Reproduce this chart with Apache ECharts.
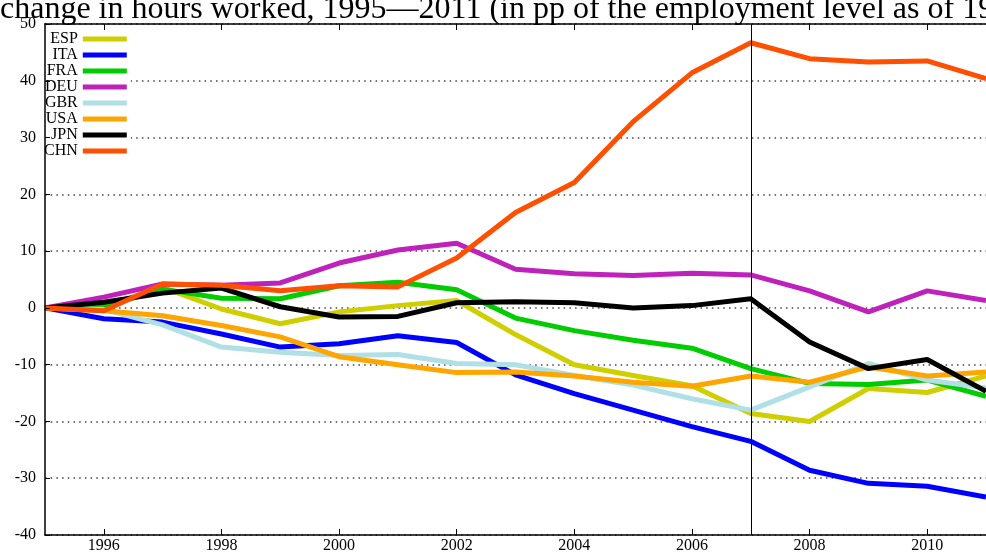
<!DOCTYPE html>
<html><head><meta charset="utf-8">
<script src="https://cdn.jsdelivr.net/npm/echarts@6/dist/echarts.min.js"></script>
<style>html,body{margin:0;padding:0;background:#fff}#c{width:986px;height:554px}</style>
</head><body><div id="c"></div>
<script>
const years = [1995,1996,1997,1998,1999,2000,2001,2002,2003,2004,2005,2006,2007,2008,2009,2010,2011];
const ESP = [0, 0.3, 3.6, -0.2, -2.8, -0.7, 0.4, 1.3, -4.7, -10.0, -11.9, -13.7, -18.6, -20.0, -14.2, -14.9, -12.0];
const ITA = [0, -1.9, -2.5, -4.6, -6.9, -6.3, -4.9, -6.1, -11.8, -15.1, -18.0, -20.9, -23.5, -28.6, -30.9, -31.4, -33.3];
const FRA = [0, 0.2, 3.3, 1.7, 1.6, 3.9, 4.5, 3.2, -1.8, -4.0, -5.7, -7.1, -10.7, -13.3, -13.5, -12.7, -15.6];
const DEU = [0, 1.9, 4.2, 4.0, 4.4, 7.9, 10.2, 11.4, 6.8, 6.0, 5.7, 6.1, 5.8, 3.0, -0.7, 3.0, 1.3];
const GBR = [0, -0.3, -3.0, -6.9, -7.8, -8.4, -8.2, -9.8, -10.0, -11.9, -13.6, -16.0, -18.0, -13.9, -9.8, -12.7, -14.1];
const USA = [0, -0.5, -1.4, -3.1, -5.1, -8.6, -10.0, -11.4, -11.3, -12.0, -13.1, -13.8, -12.0, -13.1, -10.4, -12.0, -11.3];
const JPN = [0, 1.0, 2.6, 3.5, 0.2, -1.6, -1.5, 0.9, 1.1, 0.9, 0.0, 0.4, 1.6, -6.0, -10.7, -9.1, -14.7];
const CHN = [0, -0.5, 4.2, 4.0, 3.0, 3.9, 3.7, 8.8, 16.8, 22.1, 32.8, 41.4, 46.7, 43.9, 43.3, 43.5, 40.4];
const names = ['ESP','ITA','FRA','DEU','GBR','USA','JPN','CHN'];
const seriesValues = [ESP, ITA, FRA, DEU, GBR, USA, JPN, CHN];
const xTickLabels = [1996,1998,2000,2002,2004,2006,2008,2010];
const markYear = 2007;
const titleText = 'change in hours worked, 1995\u20142011 (in pp of the employment level as of 1995)';

const colors = ['#cfcf00','#0000ff','#00cc00','#bf22bb','#b0e0e6','#ffa500','#000000','#ff4f00'];
const font = '"Liberation Serif", "Times New Roman", serif';

const series = names.map((n, i) => {
  const s = {
    name: n, type: 'line', yAxisIndex: 0, xAxisIndex: 0,
    data: years.map((y, j) => [y, seriesValues[i][j]]),
    showSymbol: false, symbol: 'none',
    lineStyle: { color: colors[i], width: 5 },
    itemStyle: { color: colors[i] },
    z: 2
  };
  if (i === 0) {
    s.markLine = {
      silent: true, symbol: ['none','none'], label: { show: false },
      lineStyle: { color: '#000', width: 1, type: 'solid' },
      data: [{ xAxis: markYear }],
      animation: false
    };
  }
  return s;
});

const chart = echarts.init(document.getElementById('c'), null, { renderer: 'canvas' });
chart.setOption({
  animation: false,
  backgroundColor: '#fff',
  title: {
    text: titleText, left: 0, top: -6, padding: 0, z: 10,
    textStyle: { fontFamily: font, fontSize: 32, fontWeight: 'normal', color: '#000' }
  },
  grid: { left: 45, right: -11, top: 24, bottom: 17, show: false },
  legend: {
    orient: 'vertical', align: 'right', left: 44, top: 27, padding: [4, 4, 4, 0],
    itemGap: 0, itemWidth: 44, itemHeight: 5, icon: 'rect',
    backgroundColor: '#fff', z: 3,
    textStyle: { fontFamily: font, fontSize: 16, color: '#000', lineHeight: 6, padding: [0, 0, 10, 0] },
    data: names
  },
  xAxis: [
    {
      type: 'value', min: 1995, max: 2011, position: 'bottom', z: 5,
      axisLine: { show: true, onZero: false, lineStyle: { color: '#000', width: 1.5 } },
      axisTick: { show: true, inside: true, length: 6, customValues: xTickLabels, lineStyle: { color: '#000', width: 1 } },
      axisLabel: { customValues: xTickLabels, formatter: v => String(v), fontFamily: font, fontSize: 16, color: '#000', margin: 3 },
      splitLine: { show: false }
    },
    {
      type: 'value', min: 1995, max: 2011, position: 'top', z: 5,
      axisLine: { show: true, onZero: false, lineStyle: { color: '#000', width: 1.5 } },
      axisTick: { show: true, inside: true, length: 6, customValues: xTickLabels, lineStyle: { color: '#000', width: 1 } },
      axisLabel: { show: false },
      splitLine: { show: false }
    }
  ],
  yAxis: [
    {
      type: 'value', min: -40, max: 50, interval: 10, z: 0,
      axisLine: { show: false }, axisTick: { show: false }, axisLabel: { show: false },
      splitLine: { show: true, lineStyle: { type: [1.5, 4.2], color: '#444', width: 1.5 } }
    },
    {
      type: 'value', min: -40, max: 50, interval: 10, position: 'left', z: 5,
      axisLine: { show: true, onZero: false, lineStyle: { color: '#000', width: 1.5 } },
      axisTick: { show: true, inside: true, length: 5, lineStyle: { color: '#000', width: 1 } },
      axisLabel: { fontFamily: font, fontSize: 16, color: '#000', margin: 9, padding: [0, 0, 8, 0] },
      splitLine: { show: false }
    }
  ],
  series: series
});
</script>
</body></html>
